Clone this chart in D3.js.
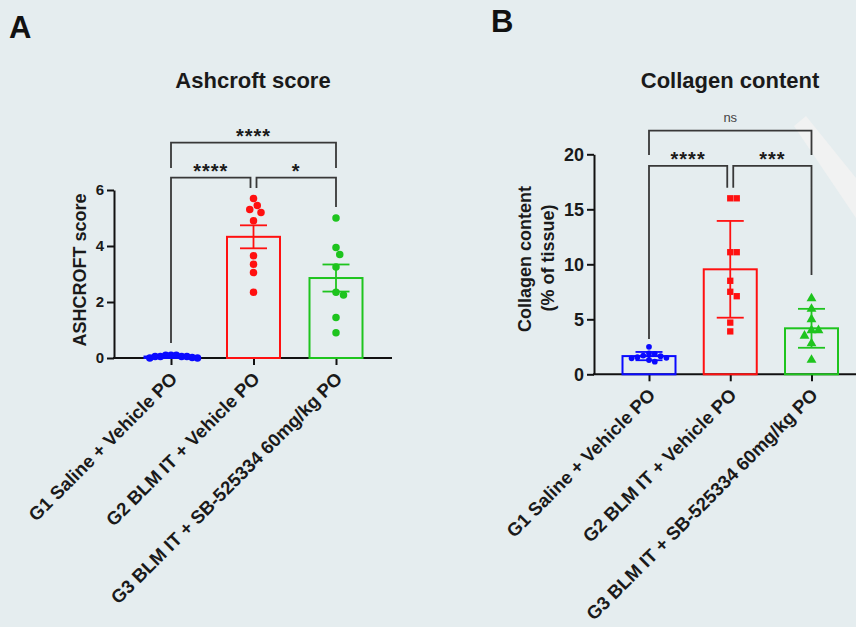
<!DOCTYPE html>
<html>
<head>
<meta charset="utf-8">
<script src="https://cdn.jsdelivr.net/npm/d3@7"></script>
<style>
  body { margin: 0; background: #e5edef; }
  svg { display: block; font-family: Arial, "Liberation Sans", sans-serif; }
</style>
</head>
<body>
<svg id="chart" width="856" height="627"></svg>
<script>
// groups and colours
const groups = ["G1 Saline + Vehicle PO", "G2 BLM IT + Vehicle PO", "G3 BLM IT + SB-525334 60mg/kg PO"];
const groupColors = ["#0a0aff", "#ff1010", "#1ec41e"];

// panel A - Ashcroft score (mean +/- SEM)
const ashcroftG1 = [0.1, 0.1, 0.05, 0.1, 0.05, 0, 0, 0.02, 0.05, 0.05];
const ashcroftG2 = [5.7, 5.45, 5.3, 5.2, 4.9, 3.65, 3.35, 3.05, 2.35];
const ashcroftG3 = [5.0, 3.95, 3.7, 3.25, 2.35, 2.25, 1.45, 0.9];
const ashcroftTicks = [0, 2, 4, 6];
const ashcroftSig = [
  { a: 0, b: 2, level: 7.69, dropA: 6.79, dropB: 6.79, label: "****" },
  { a: 0, b: 1, level: 6.44, dropA: 0.54, dropB: 6.07, label: "****" },
  { a: 1, b: 2, level: 6.44, dropA: 6.07, dropB: 5.39, label: "*" }
];

// panel B - collagen content (mean +/- SD)
const collagenG1 = [2.5, 1.9, 1.85, 1.7, 1.65, 1.55, 1.5, 1.45, 1.3, 1.15];
const collagenG2 = [16, 16, 11.1, 11.1, 8.5, 7.5, 7.1, 4.7, 3.9];
const collagenG3 = [6.9, 5.95, 5.0, 4.0, 4.0, 3.5, 2.8, 1.3];
const collagenTicks = [0, 5, 10, 15, 20];
const collagenSig = [
  { a: 0, b: 2, level: 22.15, dropA: 19.94, dropB: 19.94, label: "ns" },
  { a: 0, b: 1, level: 18.94, dropA: 3.2, dropB: 16.96, label: "****" },
  { a: 1, b: 2, level: 18.94, dropA: 16.96, dropB: 9.03, label: "***" }
];

const svg = d3.select("#chart");

// faint watermark stripe behind panel B
svg.append("path")
  .attr("d", "M794,126 L806,116 L856,178 L856,218 Z")
  .attr("fill", "#f1f2f2");

// spread points sideways so they don't overlap (simple beeswarm)
function swarm(values, y, size, maxHalf) {
  const order = d3.range(values.length).sort((i, j) => values[j] - values[i]);
  const placed = [];
  const off = new Array(values.length);
  for (const i of order) {
    const py = y(values[i]);
    let k = 0, dx = 0;
    while (true) {
      dx = (k % 2 ? 1 : -1) * Math.ceil(k / 2) * size / 2;
      if (!placed.some(q => Math.hypot(q.x - dx, q.y - py) < size)) break;
      k++;
    }
    placed.push({ x: dx, y: py });
    off[i] = dx;
  }
  const m = d3.max(off, Math.abs);
  const s = m > maxHalf ? maxHalf / m : 1;
  return off.map(d => d * s);
}

function drawPanel(p) {
  const g = svg.append("g");
  const y = d3.scaleLinear().domain(p.yDomain).range(p.yRange);
  const x = d3.scalePoint().domain(groups).range(p.xRange);
  const y0 = p.yRange[0];

  // y axis
  g.append("g")
    .attr("transform", `translate(${p.axisX},0)`)
    .call(d3.axisLeft(y).tickValues(p.ticks).tickFormat(d3.format("d"))
      .tickSize(7).tickSizeOuter(0).tickPadding(3))
    .call(a => a.select(".domain").attr("stroke-width", 2).attr("stroke", "#111"))
    .call(a => a.selectAll(".tick line").attr("stroke-width", 2).attr("stroke", "#111"))
    .call(a => a.selectAll(".tick text")
      .attr("font-size", p.tickFont).attr("font-weight", "bold")
      .attr("font-family", "Arial, 'Liberation Sans', sans-serif").attr("fill", "#1a1a1a"));

  // x axis
  g.append("line")
    .attr("x1", p.axisX - 1).attr("x2", p.xEnd)
    .attr("y1", y0).attr("y2", y0)
    .attr("stroke", "#111").attr("stroke-width", 2);
  g.append("g")
    .attr("transform", `translate(0,${y0})`)
    .call(d3.axisBottom(x).tickSize(7).tickSizeOuter(0))
    .call(a => a.select(".domain").remove())
    .call(a => a.selectAll(".tick line").attr("stroke-width", 2).attr("stroke", "#111"))
    .call(a => a.selectAll(".tick text")
      .attr("x", 0).attr("y", 0).attr("dy", 0)
      .attr("text-anchor", "end")
      .attr("transform", "translate(7,22) rotate(-45)")
      .attr("font-size", 18.5).attr("font-weight", "bold")
      .attr("font-family", "Arial, 'Liberation Sans', sans-serif").attr("fill", "#1a1a1a"));

  // bars
  const stats = p.series.map((vals, i) => {
    const mean = d3.mean(vals);
    const sd = d3.deviation(vals);
    const err = p.errType === "sem" ? sd / Math.sqrt(vals.length) : sd;
    return { group: groups[i], vals, mean, err, color: groupColors[i], i };
  });

  g.selectAll(".bar").data(stats).join("rect")
    .attr("class", "bar")
    .attr("x", d => x(d.group) - p.barW / 2)
    .attr("width", p.barW)
    .attr("y", d => y(d.mean))
    .attr("height", d => y0 - y(d.mean))
    .attr("fill", "none")
    .attr("stroke", d => d.color)
    .attr("stroke-width", 2);

  // points
  stats.forEach(d => {
    const off = swarm(d.vals, y, p.markerD[d.i], p.barW / 2);
    const sym = d3.symbol().type(p.markers[d.i]).size(p.markerArea[d.i]);
    g.append("g").selectAll("path").data(d.vals).join("path")
      .attr("d", sym)
      .attr("transform", (v, k) => `translate(${x(d.group) + off[k]},${y(v)})`)
      .attr("fill", d.color);
  });

  // error bars
  const eb = g.selectAll(".err").data(stats).join("g").attr("class", "err")
    .attr("stroke", d => d.color).attr("stroke-width", 1.8);
  eb.append("line")
    .attr("x1", d => x(d.group)).attr("x2", d => x(d.group))
    .attr("y1", d => y(d.mean + d.err)).attr("y2", d => y(Math.max(0, d.mean - d.err)));
  eb.append("line")
    .attr("x1", d => x(d.group) - 13.5).attr("x2", d => x(d.group) + 13.5)
    .attr("y1", d => y(d.mean + d.err)).attr("y2", d => y(d.mean + d.err));
  eb.append("line")
    .attr("x1", d => x(d.group) - 13.5).attr("x2", d => x(d.group) + 13.5)
    .attr("y1", d => y(Math.max(0, d.mean - d.err))).attr("y2", d => y(Math.max(0, d.mean - d.err)));

  // significance brackets
  p.sig.forEach(s => {
    const inner = s.b - s.a === 1;
    const xa = x(groups[s.a]) + (inner && s.a === 1 ? 3 : 0);
    const xb = x(groups[s.b]) - (inner && s.b === 1 ? 3 : 0);
    g.append("path")
      .attr("d", `M${xa},${y(s.dropA)} V${y(s.level)} H${xb} V${y(s.dropB)}`)
      .attr("fill", "none")
      .attr("stroke", "#383838")
      .attr("stroke-width", 1.8);
    const ns = s.label === "ns";
    g.append("text")
      .attr("x", (xa + xb) / 2)
      .attr("y", y(s.level) - (ns ? 9 : 0))
      .attr("text-anchor", "middle")
      .attr("font-size", ns ? 13 : 20)
      .attr("font-weight", ns ? "normal" : "bold")
      .attr("letter-spacing", ns ? 0 : 1)
      .attr("fill", ns ? "#444" : "#1a1a1a")
      .text(s.label);
  });

  // titles
  g.append("text")
    .attr("x", p.titleX).attr("y", 88)
    .attr("text-anchor", "middle")
    .attr("font-size", 22).attr("font-weight", "bold").attr("fill", "#1a1a1a")
    .text(p.title);
  g.append("text")
    .attr("x", p.letterX).attr("y", p.letterY)
    .attr("font-size", 31).attr("font-weight", "bold").attr("fill", "#111")
    .text(p.letter);
  p.yLabels.forEach(l => {
    g.append("text")
      .attr("transform", `translate(${l.x},${l.y}) rotate(-90)`)
      .attr("text-anchor", "middle")
      .attr("font-size", 18).attr("font-weight", "bold").attr("fill", "#1a1a1a")
      .text(l.text);
  });
}

drawPanel({
  letter: "A", letterX: 9, letterY: 38,
  title: "Ashcroft score", titleX: 253,
  yLabels: [{ text: "ASHCROFT score", x: 86, y: 270 }],
  series: [ashcroftG1, ashcroftG2, ashcroftG3],
  errType: "sem",
  yDomain: [0, 6], yRange: [358, 190], ticks: ashcroftTicks, tickFont: 15,
  axisX: 114, xEnd: 392, xRange: [171, 336], barW: 53,
  markers: [d3.symbolCircle, d3.symbolCircle, d3.symbolCircle],
  markerArea: [44, 44, 44], markerD: [7.5, 7.5, 7.5],
  sig: ashcroftSig
});

drawPanel({
  letter: "B", letterX: 491, letterY: 32,
  title: "Collagen content", titleX: 730,
  yLabels: [{ text: "Collagen content", x: 531, y: 259 }, { text: "(% of tissue)", x: 554, y: 258 }],
  series: [collagenG1, collagenG2, collagenG3],
  errType: "sd",
  yDomain: [0, 20], yRange: [374.3, 154.3], ticks: collagenTicks, tickFont: 18,
  axisX: 594, xEnd: 856, xRange: [649, 811.5], barW: 53,
  markers: [d3.symbolCircle, d3.symbolSquare, d3.symbolTriangle],
  markerArea: [26, 40, 42], markerD: [5.8, 6.5, 7],
  sig: collagenSig
});
</script>
</body>
</html>
